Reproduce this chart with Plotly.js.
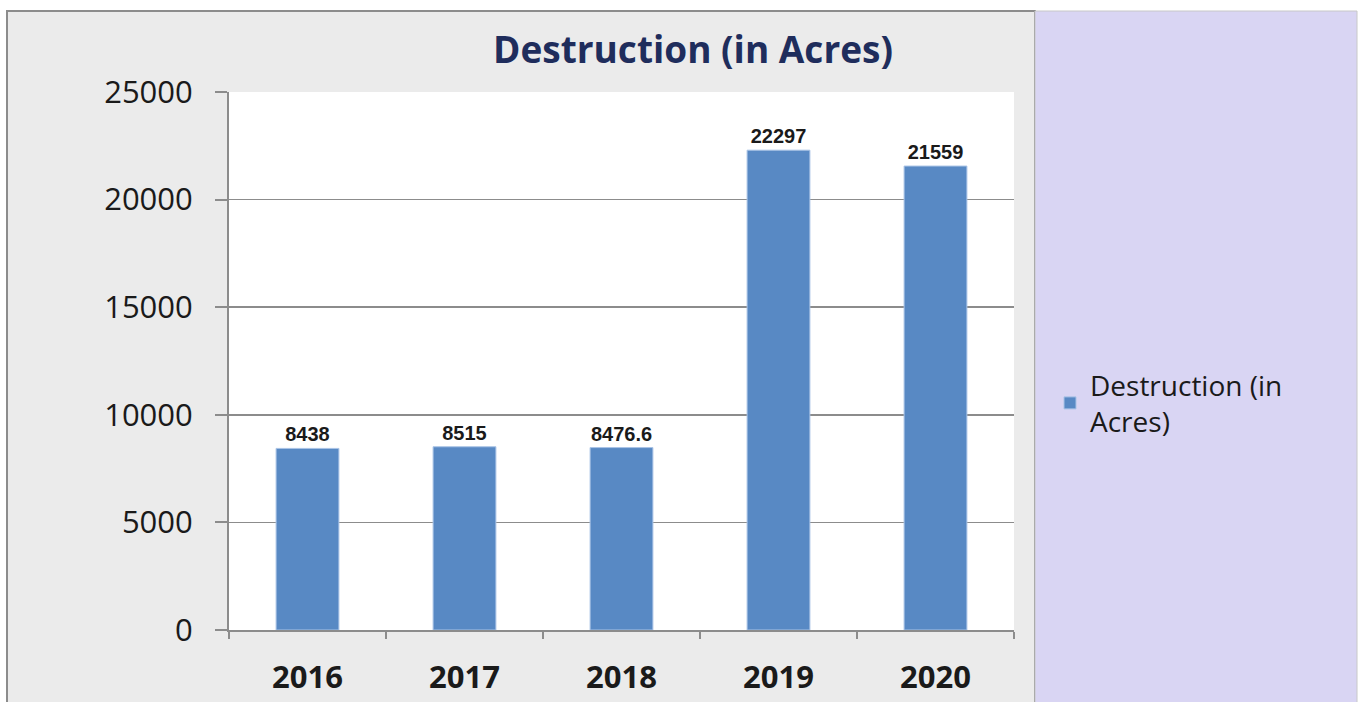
<!DOCTYPE html>
<html><head><meta charset="utf-8">
<script src="https://cdn.plot.ly/plotly-3.0.1.min.js"></script>
<style>html,body{margin:0;padding:0;background:#fff}#chart{width:1359px;height:702px}</style>
</head><body><div id="chart"></div>
<script>
const years = ['2016','2017','2018','2019','2020'];
const destruction = [8438, 8515, 8476.6, 22297, 21559];
const labels = ['8438','8515','8476.6','22297','21559'];
const seriesName = 'Destruction (in<br>Acres)';

const L = 229, R = 1014, T = 92, B = 630;
const W = R - L, H = B - T;
const px = v => (v - L) / W;
const py = v => (B - v) / H;

const trace = {
  type: 'bar', x: years, y: destruction, name: seriesName,
  text: labels, textposition: 'outside', cliponaxis: false,
  textfont: {family: 'Liberation Sans Narrow, Arial Narrow, sans-serif', size: 20, color: '#1a1a1a', weight: 'bold'},
  marker: {color: '#5889c4', line: {color: '#a9c3e6', width: 1}},
  showlegend: true
};

const layout = {
  width: 1359, height: 702,
  margin: {l: L, r: 1359 - R, t: T, b: 702 - B},
  paper_bgcolor: '#ffffff', plot_bgcolor: '#ffffff',
  bargap: 0.6,
  showlegend: true,
  title: {text: '<b>Destruction (in Acres)</b>', x: px(693), xanchor: 'center', xref: 'paper', y: 1 - 50/702, yanchor: 'middle',
          font: {family: 'Open Sans, sans-serif', size: 37, color: '#1f2d5c'}},
  xaxis: {type: 'category', showline: true, linecolor: '#8c8c8c', linewidth: 2,
          ticks: 'outside', tickson: 'boundaries', ticklen: 7, tickcolor: '#8c8c8c', tickwidth: 2,
          tickfont: {family: 'Open Sans, sans-serif', size: 31, color: '#1a1a1a', weight: 'bold'},
          ticklabelstandoff: 19, showgrid: false, zeroline: false},
  yaxis: {range: [0, 25000], dtick: 5000, tickformat: 'd', showline: true, linecolor: '#8c8c8c', linewidth: 2,
          ticks: 'outside', ticklen: 12, tickcolor: '#8c8c8c', tickwidth: 2,
          showgrid: true, gridcolor: '#8c8c8c', gridwidth: 1.5, zeroline: false,
          tickfont: {family: 'Open Sans, sans-serif', size: 31, color: '#1a1a1a'},
          ticklabelstandoff: 16},
  legend: {x: px(1050), xanchor: 'left', y: py(360), yanchor: 'top',
           font: {family: 'Open Sans, sans-serif', size: 28, color: '#1a1a1a'},
           bgcolor: 'rgba(0,0,0,0)', itemwidth: 30},
  shapes: [
    {type: 'rect', xref: 'paper', yref: 'paper', x0: px(7), x1: px(1035), y0: py(703), y1: py(11),
     fillcolor: '#ebebeb', line: {color: '#8c8c8c', width: 2}, layer: 'below'},
    {type: 'rect', xref: 'paper', yref: 'paper', x0: px(1035), x1: px(1357), y0: py(703), y1: py(11),
     fillcolor: '#d9d5f3', line: {color: '#c8c8c8', width: 1}, layer: 'below'},
    {type: 'rect', xref: 'paper', yref: 'paper', x0: 0, x1: 1, y0: 0, y1: 1,
     fillcolor: '#ffffff', line: {width: 0}, layer: 'below'}
  ]
};

Plotly.newPlot('chart', [trace], layout, {displayModeBar: false, staticPlot: true});
</script></body></html>
